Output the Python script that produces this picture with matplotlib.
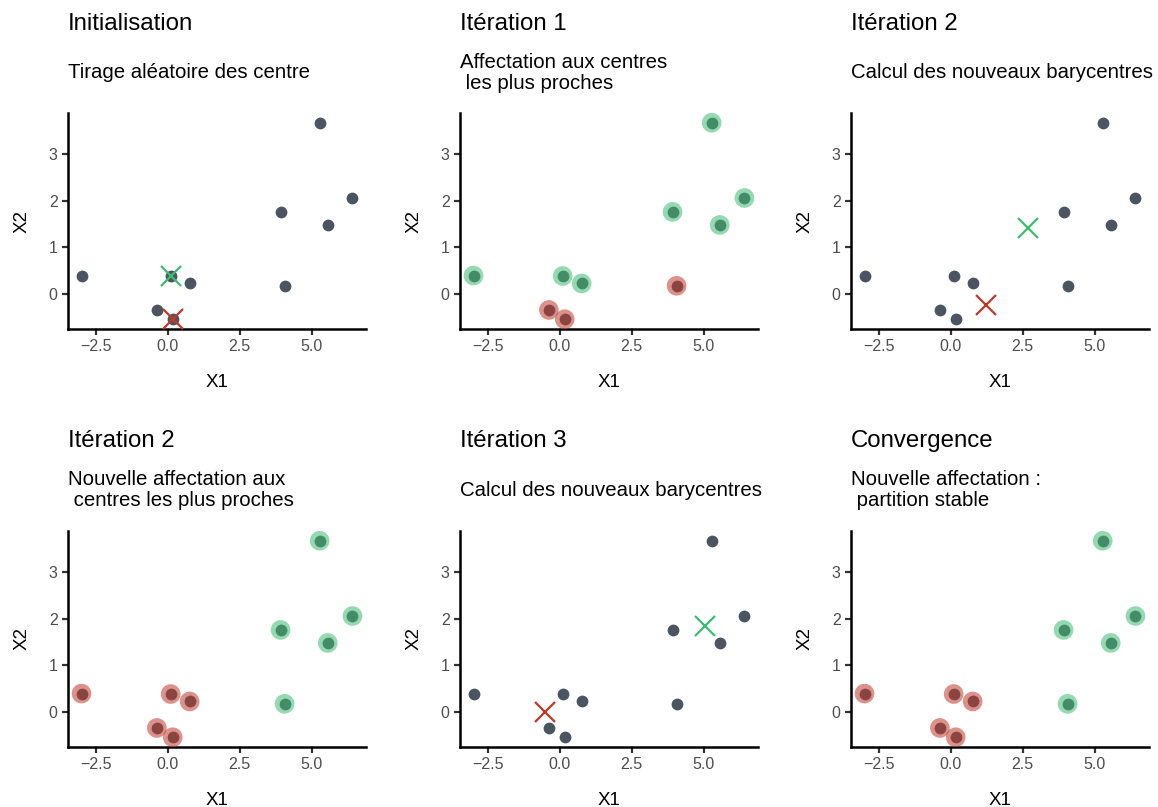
import matplotlib.pyplot as plt

plt.rcParams['font.family'] = ['Liberation Sans', 'DejaVu Sans']

# points
x1 = [-3.0, 0.10, 0.76, -0.38, 0.17, 3.92, 5.56, 5.28, 6.42, 4.06]
x2 = [0.39, 0.38, 0.22, -0.35, -0.55, 1.76, 1.48, 3.68, 2.06, 0.17]

# cluster of each point per step ('g' green / 'r' red)
clusters_iter1 = ['g', 'g', 'g', 'r', 'r', 'g', 'g', 'g', 'g', 'r']
clusters_iter2 = ['r', 'r', 'r', 'r', 'r', 'g', 'g', 'g', 'g', 'g']

# centres per step: (green x, green y, red x, red y)
centres_init = (0.10, 0.38, 0.17, -0.55)
centres_iter2 = (2.68, 1.42, 1.22, -0.24)
centres_iter3 = (5.05, 1.84, -0.50, 0.00)

titles = ["Initialisation", "Itération 1", "Itération 2",
          "Itération 2", "Itération 3", "Convergence"]
subtitles = ["Tirage aléatoire des centre",
             "Affectation aux centres\n les plus proches",
             "Calcul des nouveaux barycentres",
             "Nouvelle affectation aux\n centres les plus proches",
             "Calcul des nouveaux barycentres",
             "Nouvelle affectation :\n partition stable"]
steps = [('centres', centres_init), ('clusters', clusters_iter1), ('centres', centres_iter2),
         ('clusters', clusters_iter2), ('centres', centres_iter3), ('clusters', clusters_iter2)]

dark = '#4a5561'
colors = {'g': '#3dbb6e', 'r': '#c0392b'}

W, H = 1158, 807
fig = plt.figure(figsize=(W / 100, H / 100), dpi=100)

lefts = [68, 460, 851]
tops = [113, 531]
aw, ah = 298, 216

for k in range(6):
    row, col = k // 3, k % 3
    left, top = lefts[col], tops[row]
    ax = fig.add_axes([left / W, (H - top - ah) / H, aw / W, ah / H])
    kind, val = steps[k]
    if kind == 'centres':
        ax.scatter(x1, x2, s=72, color=dark, zorder=2, linewidths=0)
        gx, gy, rx, ry = val
        ax.plot(gx, gy, marker='x', ms=14, mew=1.6, color=colors['g'], zorder=3, ls='none')
        ax.plot(rx, ry, marker='x', ms=14, mew=1.6, color=colors['r'], zorder=3, ls='none')
    else:
        ax.scatter(x1, x2, s=72, color=dark, zorder=2, linewidths=0)
        ax.scatter(x1, x2, s=200, color=[colors[c] for c in val], alpha=0.55,
                   zorder=3, linewidths=0)
    ax.set_xlim(-3.47, 6.89)
    ax.set_ylim(-0.76, 3.89)
    ax.set_xticks([-2.5, 0, 2.5, 5.0])
    ax.set_xticklabels(['\u22122.5', '0.0', '2.5', '5.0'])
    ax.set_yticks([0, 1, 2, 3])
    for s in ['top', 'right']:
        ax.spines[s].set_visible(False)
    for s in ['left', 'bottom']:
        ax.spines[s].set_linewidth(1.8)
        ax.spines[s].set_color('black')
    ax.tick_params(length=4.5, width=1.6, color='#333333', labelcolor='#4d4d4d',
                   labelsize=11.5, pad=3)
    ax.set_xlabel('X1', fontsize=13.5, labelpad=14)
    ax.set_ylabel('X2', fontsize=13.5, labelpad=13)

    fig.text(left / W, 1 - (30 + row * 417) / H, titles[k], fontsize=17.3,
             ha='left', va='baseline')
    fig.text(left / W, 1 - (73 + row * 417) / H, subtitles[k], fontsize=14.7,
             ha='left', va='center', linespacing=1.15)

fig.savefig('out.png', dpi=100)
